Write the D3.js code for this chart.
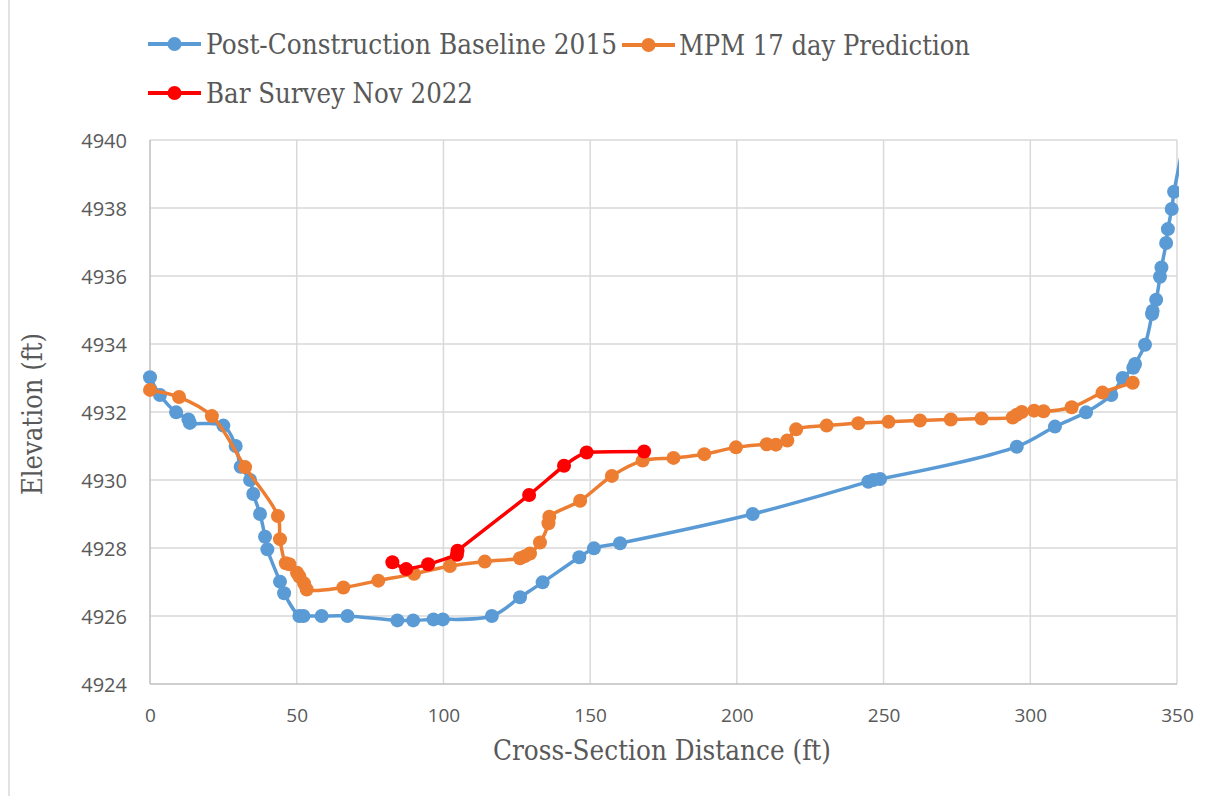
<!DOCTYPE html>
<html>
<head>
<meta charset="utf-8">
<script src="https://cdn.jsdelivr.net/npm/d3@7"></script>
<style>
  html, body { margin: 0; padding: 0; background: #fff; }
  svg { display: block; }
</style>
</head>
<body>
<svg id="chart" width="1222" height="796"></svg>
<script>
// ---- Data ----
const baselineX = [0, 3.4, 8.9, 13.1, 13.6, 25.0, 29.2, 30.9, 34.1, 35.2, 37.5, 39.2, 40.0, 44.3, 45.7, 50.9, 52.3, 58.5, 67.3, 84.3, 89.7, 96.6, 99.8, 116.5, 126.1, 133.8, 146.3, 151.3, 160.2, 205.4, 244.8, 246.5, 248.8, 295.4, 308.4, 319.0, 327.6, 331.5, 335.1, 335.7, 339.1, 341.5, 341.7, 342.9, 344.2, 344.7, 346.3, 346.9, 348.2, 349.0, 353.0];
const baselineY = [4933.02, 4932.5, 4931.99, 4931.78, 4931.68, 4931.6, 4931.0, 4930.39, 4930.0, 4929.59, 4929.0, 4928.33, 4927.96, 4927.01, 4926.67, 4926.0, 4926.0, 4926.0, 4926.0, 4925.87, 4925.87, 4925.9, 4925.9, 4926.0, 4926.55, 4926.99, 4927.73, 4927.99, 4928.14, 4929.0, 4929.95, 4930.0, 4930.03, 4930.98, 4931.57, 4931.99, 4932.5, 4933.0, 4933.3, 4933.41, 4933.98, 4934.88, 4934.97, 4935.3, 4935.98, 4936.25, 4936.97, 4937.38, 4937.97, 4938.48, 4940.2];

const mpmX = [0, 9.9, 21.1, 32.4, 43.6, 44.3, 46.3, 47.5, 50.1, 50.9, 52.5, 53.4, 65.9, 77.8, 90.0, 102.2, 114.1, 126.1, 127.8, 129.5, 132.9, 135.8, 136.1, 146.6, 157.4, 167.9, 178.4, 188.9, 199.7, 210.2, 213.3, 217.2, 220.2, 230.6, 241.4, 251.7, 262.4, 272.9, 283.4, 294.0, 295.4, 297.1, 301.3, 304.5, 314.1, 324.6, 334.9];
const mpmY = [4932.65, 4932.44, 4931.88, 4930.38, 4928.94, 4928.26, 4927.55, 4927.52, 4927.27, 4927.16, 4926.96, 4926.78, 4926.84, 4927.04, 4927.24, 4927.47, 4927.6, 4927.7, 4927.76, 4927.84, 4928.16, 4928.73, 4928.92, 4929.39, 4930.12, 4930.57, 4930.65, 4930.76, 4930.96, 4931.05, 4931.04, 4931.16, 4931.49, 4931.6, 4931.67, 4931.71, 4931.75, 4931.78, 4931.81, 4931.84, 4931.92, 4932.0, 4932.04, 4932.02, 4932.14, 4932.57, 4932.86];

const barX = [82.6, 87.3, 94.8, 104.6, 104.8, 129.2, 141.1, 148.8, 168.4];
const barY = [4927.58, 4927.38, 4927.52, 4927.8, 4927.92, 4929.56, 4930.42, 4930.81, 4930.84];

const xTicks = [0, 50, 100, 150, 200, 250, 300, 350];
const yTicks = [4924, 4926, 4928, 4930, 4932, 4934, 4936, 4938, 4940];

const seriesNames = ["Post-Construction Baseline 2015", "MPM 17 day Prediction", "Bar Survey Nov 2022"];
const seriesColors = ["#5B9BD5", "#ED7D31", "#FF0000"];

// ---- Layout ----
const svg = d3.select("#chart");
const plot = { left: 150, right: 1177, top: 140, bottom: 684 };
const x = d3.scaleLinear().domain([0, 350]).range([plot.left, plot.right]);
const y = d3.scaleLinear().domain([4924, 4940]).range([plot.bottom, plot.top]);
const textColor = "#595959";
const serif = "'DejaVu Serif', 'Liberation Serif', 'Times New Roman', serif";
const sans = "'Open Sans', 'Noto Sans', sans-serif";

// faint chart-area border on the left
svg.append("line").attr("x1", 9).attr("x2", 9).attr("y1", 0).attr("y2", 796)
  .attr("stroke", "#d9d9d9").attr("stroke-width", 1.5);

// gridlines
svg.append("g").selectAll("line").data(yTicks.slice(1)).join("line")
  .attr("x1", plot.left).attr("x2", plot.right)
  .attr("y1", d => y(d)).attr("y2", d => y(d))
  .attr("stroke", "#d9d9d9").attr("stroke-width", 1.5);
svg.append("g").selectAll("line").data(xTicks.slice(1)).join("line")
  .attr("y1", plot.top).attr("y2", plot.bottom)
  .attr("x1", d => x(d)).attr("x2", d => x(d))
  .attr("stroke", "#d9d9d9").attr("stroke-width", 1.5);

// axes lines
svg.append("line").attr("x1", plot.left).attr("x2", plot.right)
  .attr("y1", plot.bottom).attr("y2", plot.bottom)
  .attr("stroke", "#bfbfbf").attr("stroke-width", 1.5);
svg.append("line").attr("x1", plot.left).attr("x2", plot.left)
  .attr("y1", plot.top).attr("y2", plot.bottom)
  .attr("stroke", "#bfbfbf").attr("stroke-width", 1.5);

// tick labels via d3 axes (no lines)
const xAxis = svg.append("g").attr("transform", `translate(0,${plot.bottom})`)
  .call(d3.axisBottom(x).tickValues(xTicks).tickSize(0).tickPadding(0).tickFormat(d3.format("d")));
xAxis.select(".domain").remove();
xAxis.selectAll("text").attr("dy", null).attr("y", 38)
  .attr("font-family", sans).attr("font-size", 19)
  .attr("fill", textColor);

const yAxis = svg.append("g").attr("transform", `translate(${plot.left},0)`)
  .call(d3.axisLeft(y).tickValues(yTicks).tickSize(0).tickPadding(23).tickFormat(d3.format("d")));
yAxis.select(".domain").remove();
yAxis.selectAll("text").attr("dy", "0.35em")
  .attr("font-family", sans).attr("font-size", 20)
  .attr("fill", textColor);

// axis titles
svg.append("text").text("Cross-Section Distance (ft)")
  .attr("x", 493).attr("y", 760)
  .attr("textLength", 338).attr("lengthAdjust", "spacingAndGlyphs")
  .attr("font-family", serif).attr("font-size", 27)
  .attr("fill", textColor);
svg.append("text").text("Elevation (ft)")
  .attr("transform", "translate(42,495) rotate(-90)")
  .attr("textLength", 162).attr("lengthAdjust", "spacingAndGlyphs")
  .attr("font-family", serif).attr("font-size", 27)
  .attr("fill", textColor);

// clip
svg.append("defs").append("clipPath").attr("id", "clip")
  .append("rect").attr("x", plot.left - 10).attr("y", plot.top - 10)
  .attr("width", plot.right - plot.left + 12).attr("height", plot.bottom - plot.top + 20);

const series = [
  { xs: baselineX, ys: baselineY, color: seriesColors[0], curve: d3.curveCatmullRom.alpha(0.5) },
  { xs: mpmX, ys: mpmY, color: seriesColors[1], curve: d3.curveCatmullRom.alpha(0.5) },
  { xs: barX, ys: barY, color: seriesColors[2], curve: d3.curveCardinal.tension(0.6) }
];

const g = svg.append("g").attr("clip-path", "url(#clip)");
series.forEach(s => {
  const pts = s.xs.map((v, i) => [v, s.ys[i]]);
  const line = d3.line().x(d => x(d[0])).y(d => y(d[1])).curve(s.curve);
  const sg = g.append("g");
  sg.append("path").datum(pts).attr("d", line)
    .attr("fill", "none").attr("stroke", s.color).attr("stroke-width", 3.5)
    .attr("stroke-linejoin", "round").attr("stroke-linecap", "round");
  sg.selectAll("circle").data(pts.filter(p => p[0] <= 350)).join("circle")
    .attr("cx", d => x(d[0])).attr("cy", d => y(d[1])).attr("r", 7)
    .attr("fill", s.color);
});

// legend
const legendItems = [
  { name: seriesNames[0], color: seriesColors[0], x0: 148, cy: 44, tx: 206, tw: 411 },
  { name: seriesNames[1], color: seriesColors[1], x0: 622, cy: 45, tx: 679, tw: 291 },
  { name: seriesNames[2], color: seriesColors[2], x0: 148, cy: 93, tx: 206, tw: 267 }
];
const lg = svg.append("g");
legendItems.forEach(it => {
  lg.append("line").attr("x1", it.x0).attr("x2", it.x0 + 53)
    .attr("y1", it.cy).attr("y2", it.cy)
    .attr("stroke", it.color).attr("stroke-width", 4);
  lg.append("circle").attr("cx", it.x0 + 26.5).attr("cy", it.cy).attr("r", 7).attr("fill", it.color);
  lg.append("text").text(it.name)
    .attr("x", it.tx).attr("y", it.cy + 10)
    .attr("textLength", it.tw).attr("lengthAdjust", "spacingAndGlyphs")
    .attr("font-family", serif).attr("font-size", 28)
    .attr("fill", textColor);
});
</script>
</body>
</html>
